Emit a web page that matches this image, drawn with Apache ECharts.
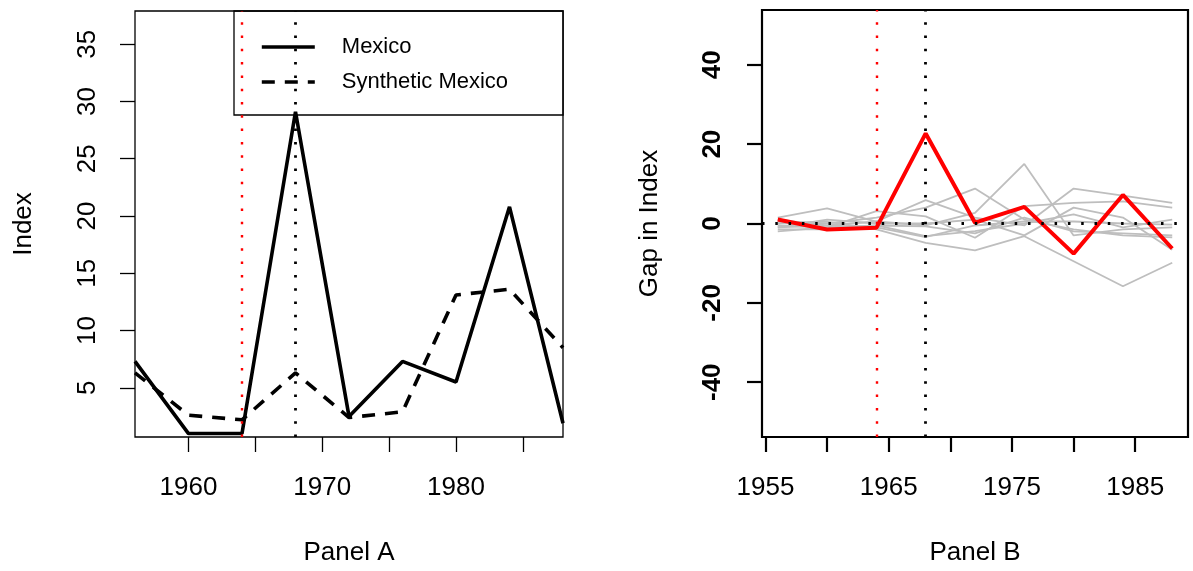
<!DOCTYPE html>
<html><head><meta charset="utf-8">
<script src="https://cdn.jsdelivr.net/npm/echarts@6/dist/echarts.min.js"></script>
<style>html,body{margin:0;padding:0;background:#fff}#c{width:1193px;height:571px}</style>
</head><body><div id="c"></div>
<script>
// ---- data ----
const years = [1956, 1960, 1964, 1968, 1972, 1976, 1980, 1984, 1988];
const mexico = [7.3, 1.0, 1.0, 29.1, 2.5, 7.3, 5.5, 20.8, 1.9];
const synthMexico = [6.3, 2.6, 2.2, 6.3, 2.4, 2.9, 13.1, 13.6, 8.5];
const gapMexico = [1.0, -1.5, -1.1, 22.7, 0.2, 4.2, -7.6, 7.2, -6.3];
const placebo1 = [-1.0, -0.5, 0.5, -0.5, 2.7, 15.0, -3.0, -1.5, -1.0];
const placebo2 = [0.5, 0.0, 1.5, 4.0, 8.8, 1.0, -1.5, -3.0, -3.5];
const placebo3 = [1.5, 3.8, 0.5, 5.9, 1.5, -0.5, 8.8, 7.0, 5.2];
const placebo4 = [-0.5, -1.0, 3.1, 1.8, -3.6, 4.4, 5.2, 5.6, 4.0];
const placebo5 = [-2.0, -1.0, -0.5, -3.2, -1.9, 0.0, 2.3, -1.0, 1.0];
const placebo6 = [0.0, 0.5, -1.5, -4.9, -6.8, -3.2, -9.5, -15.8, -9.9];
const placebo7 = [-1.5, -1.5, -0.5, -0.7, -2.5, 1.5, -2.0, -2.5, -3.0];
const placebo8 = [1.0, -0.5, -1.0, -3.4, -0.5, 0.5, 0.5, 0.0, -0.3];
const placebo9 = [-1.0, 1.0, 0.0, 0.0, 1.0, -3.0, 4.0, 1.5, -6.6];
const placebos = [placebo1, placebo2, placebo3, placebo4, placebo5, placebo6, placebo7, placebo8, placebo9];
const treatYear = 1964;
const peakYear = 1968;
const ticksA_y = [5, 10, 15, 20, 25, 30, 35];
const ticksA_x = [1960, 1965, 1970, 1975, 1980, 1985];
const labelsA_x = [1960, 1970, 1980];
const ticksB_y = [-40, -20, 0, 20, 40];
const ticksB_x = [1955, 1960, 1965, 1970, 1975, 1980, 1985];
const labelsB_x = [1955, 1965, 1975, 1985];

const pairs = (vals) => years.map((y, i) => [y, vals[i]]);
const FONT = '"Liberation Sans", Arial, sans-serif';
const dotA = [2.5, 10.8];
const plain = (v) => String(v);

const chart = echarts.init(document.getElementById('c'), null, {renderer: 'canvas'});

const greySeries = placebos.map((p, i) => ({
  type: 'line', xAxisIndex: 1, yAxisIndex: 1, data: pairs(p), symbol: 'none',
  lineStyle: {color: '#BEBEBE', width: 1.8}, z: 2, silent: true
}));

chart.setOption({
  animation: false,
  backgroundColor: '#fff',
  textStyle: {fontFamily: FONT},
  grid: [
    {left: 135, top: 11, width: 428, height: 426, show: true, borderColor: '#000', borderWidth: 1.3, backgroundColor: 'transparent'},
    {left: 762, top: 10, width: 426, height: 427, show: true, borderColor: '#000', borderWidth: 2.2, backgroundColor: 'transparent'}
  ],
  legend: {
    data: ['Mexico', 'Synthetic Mexico'],
    orient: 'vertical', left: 234, top: 11,
    padding: [25, 55, 22, 26],
    borderColor: '#000', borderWidth: 1.3, borderRadius: 0,
    itemWidth: 53, itemHeight: 22, itemGap: 13,
    itemStyle: {opacity: 0},
    lineStyle: {width: 3.6},
    textStyle: {fontSize: 22, color: '#000', fontFamily: FONT, padding: [0, 0, 0, 22], lineHeight: 22},
    selectedMode: false
  },
  xAxis: [
    {type: 'value', gridIndex: 0, min: 1956, max: 1988,
     name: 'Panel A', nameLocation: 'middle', nameGap: 103,
     nameTextStyle: {fontSize: 26, color: '#000', fontFamily: FONT},
     axisLine: {show: false, onZero: false}, splitLine: {show: false},
     axisTick: {show: true, length: 15, inside: false, customValues: ticksA_x, lineStyle: {color: '#000', width: 1.3}},
     axisLabel: {show: true, customValues: labelsA_x, formatter: plain, margin: 38, fontSize: 26, color: '#000', fontFamily: FONT}},
    {type: 'value', gridIndex: 1, min: 1954.72, max: 1989.28,
     name: 'Panel B', nameLocation: 'middle', nameGap: 103,
     nameTextStyle: {fontSize: 26, color: '#000', fontFamily: FONT},
     axisLine: {show: false, onZero: false}, splitLine: {show: false},
     axisTick: {show: true, length: 15, inside: false, customValues: ticksB_x, lineStyle: {color: '#000', width: 2.2}},
     axisLabel: {show: true, customValues: labelsB_x, formatter: plain, margin: 38, fontSize: 26, color: '#000', fontFamily: FONT}}
  ],
  yAxis: [
    {type: 'value', gridIndex: 0, min: 0.7, max: 37.9,
     name: 'Index', nameLocation: 'middle', nameGap: 98, nameRotate: 90,
     nameTextStyle: {fontSize: 26, color: '#000', fontFamily: FONT},
     axisLine: {show: false, onZero: false}, splitLine: {show: false},
     axisTick: {show: true, length: 15, customValues: ticksA_y, lineStyle: {color: '#000', width: 1.3}},
     axisLabel: {show: true, customValues: ticksA_y, formatter: plain, rotate: 90, margin: 34, fontSize: 26, color: '#000', fontFamily: FONT}},
    {type: 'value', gridIndex: 1, min: -53.8, max: 53.8,
     name: 'Gap in Index', nameLocation: 'middle', nameGap: 99, nameRotate: 90,
     nameTextStyle: {fontSize: 26, color: '#000', fontFamily: FONT},
     axisLine: {show: false, onZero: false}, splitLine: {show: false},
     axisTick: {show: true, length: 15, customValues: ticksB_y, lineStyle: {color: '#000', width: 2.2}},
     axisLabel: {show: true, customValues: ticksB_y, formatter: plain, rotate: 90, margin: 36, fontSize: 26, fontWeight: 'bold', color: '#000', fontFamily: FONT}}
  ],
  series: [
    {name: 'Mexico', type: 'line', xAxisIndex: 0, yAxisIndex: 0, data: pairs(mexico), symbol: 'none',
     lineStyle: {color: '#000', width: 3.6, type: 'solid'}, itemStyle: {color: '#000'}, z: 3},
    {name: 'Synthetic Mexico', type: 'line', xAxisIndex: 0, yAxisIndex: 0, data: pairs(synthMexico), symbol: 'none',
     lineStyle: {color: '#000', width: 3.6, type: [13, 10]}, itemStyle: {color: '#000'}, z: 3},
    {name: 'refA', type: 'line', xAxisIndex: 0, yAxisIndex: 0, data: [], z: 5, silent: true,
     markLine: {silent: true, symbol: ['none', 'none'], label: {show: false}, animation: false,
       data: [
         {xAxis: treatYear, lineStyle: {color: '#FF0000', width: 2.4, type: dotA}},
         {xAxis: peakYear, lineStyle: {color: '#000', width: 2.8, type: dotA}}
       ]}},
    ...greySeries,
    {name: 'Gap', type: 'line', xAxisIndex: 1, yAxisIndex: 1, data: pairs(gapMexico), symbol: 'none',
     lineStyle: {color: '#FF0000', width: 4}, itemStyle: {color: '#FF0000'}, z: 4},
    {name: 'refB', type: 'line', xAxisIndex: 1, yAxisIndex: 1, data: [], z: 5, silent: true,
     markLine: {silent: true, symbol: ['none', 'none'], label: {show: false}, animation: false,
       data: [
         {xAxis: treatYear, lineStyle: {color: '#FF0000', width: 2.4, type: dotA}},
         {xAxis: peakYear, lineStyle: {color: '#000', width: 2.8, type: dotA}},
         {yAxis: 0, lineStyle: {color: '#000', width: 3, type: dotA}}
       ]}}
  ]
});
</script></body></html>
